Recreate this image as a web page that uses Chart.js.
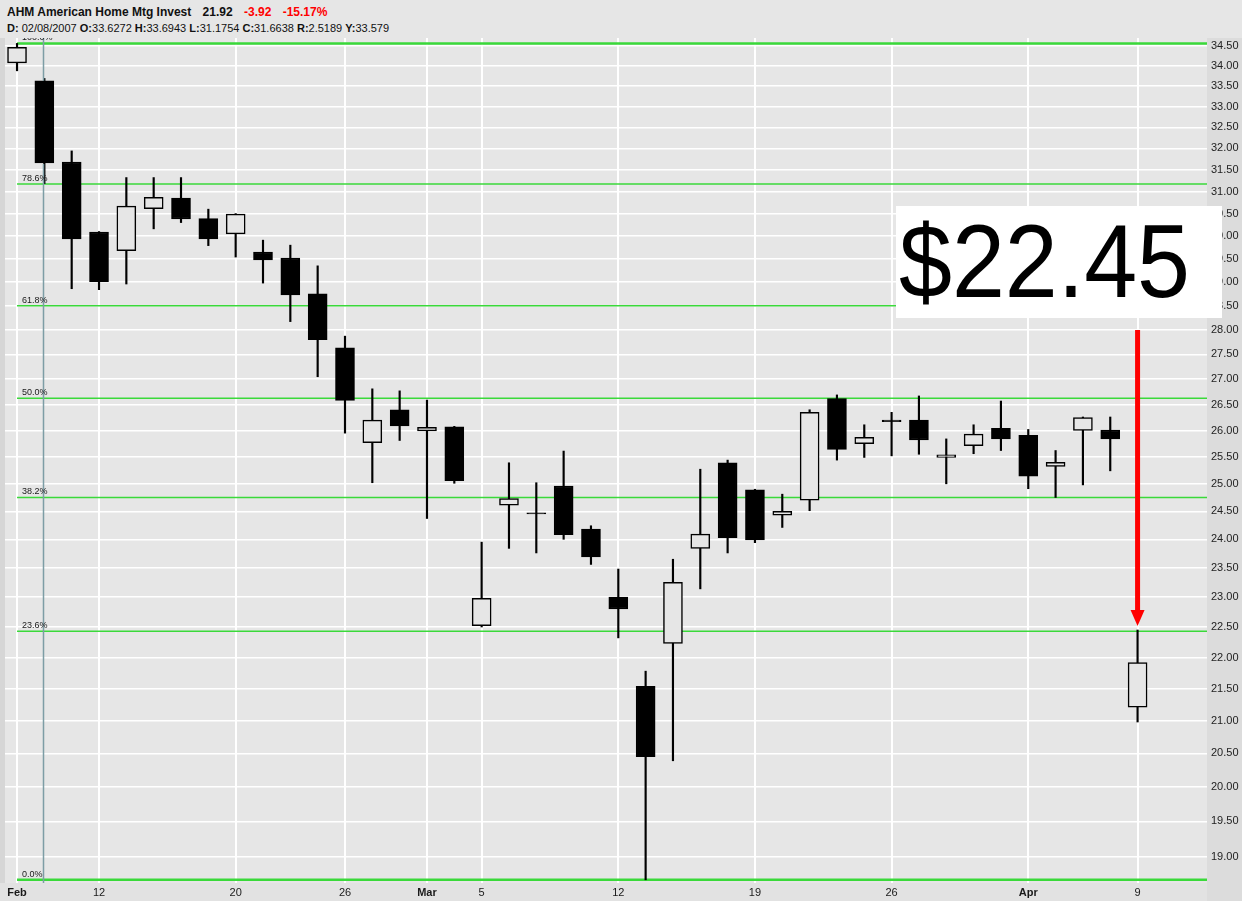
<!DOCTYPE html>
<html>
<head>
<meta charset="utf-8">
<title>AHM American Home Mtg Invest</title>
<script src="https://cdn.jsdelivr.net/npm/chart.js@4.4.0/dist/chart.umd.min.js"></script>
<style>
  html, body { margin: 0; padding: 0; background: #e2e2e2; }
  #wrap { position: relative; width: 1242px; height: 901px; overflow: hidden; }
  #hdr { position: absolute; left: 0; top: 0; width: 1242px; height: 38px; background: #e6e6e6;
         font-family: "Liberation Sans", Arial, sans-serif; color: #111; z-index: 2; }
  #l1 { position: absolute; left: 7px; top: 5px; font-size: 12px; line-height: 14px; font-weight: bold; white-space: pre; }
  #l1 span { margin-left: 8px; }
  #l2 { position: absolute; left: 7px; top: 22px; font-size: 11px; line-height: 13px; white-space: pre; }
  .red { color: #ff0000; }
  canvas { position: absolute; left: 0; top: 0; }
</style>
</head>
<body>
<div id="wrap">
  <div id="hdr">
    <div id="l1">AHM American Home Mtg Invest <span id="last"></span> <span class="red" id="chg"></span> <span class="red" id="pct"></span></div>
    <div id="l2"><b>D:</b> 02/08/2007 <b>O:</b>33.6272 <b>H:</b>33.6943 <b>L:</b>31.1754 <b>C:</b>31.6638 <b>R:</b>2.5189 <b>Y:</b>33.579</div>
  </div>
  <canvas id="c" width="1242" height="901"></canvas>
</div>
<script>
// daily bars
const dates = ['2007-02-07','2007-02-08','2007-02-09','2007-02-12','2007-02-13','2007-02-14','2007-02-15','2007-02-16',
  '2007-02-20','2007-02-21','2007-02-22','2007-02-23','2007-02-26','2007-02-27','2007-02-28','2007-03-01','2007-03-02',
  '2007-03-05','2007-03-06','2007-03-07','2007-03-08','2007-03-09','2007-03-12','2007-03-13','2007-03-14','2007-03-15',
  '2007-03-16','2007-03-19','2007-03-20','2007-03-21','2007-03-22','2007-03-23','2007-03-26','2007-03-27','2007-03-28',
  '2007-03-29','2007-03-30','2007-04-02','2007-04-03','2007-04-04','2007-04-05','2007-04-09'];
const opens  = [34.08,33.63,31.68,30.09,29.68,30.61,30.85,30.39,30.05,29.65,29.52,28.75,27.63,25.77,26.40,25.99,26.07,
  22.52,24.61,24.47,24.96,24.18,23.00,21.54,22.23,23.84,25.39,24.89,24.43,24.70,26.62,25.75,26.20,26.20,25.49,
  25.71,26.04,25.91,25.32,26.00,26.01,21.21];
const highs  = [34.57,33.69,31.94,30.10,31.32,31.32,31.32,30.60,30.50,29.91,29.80,29.35,27.87,26.81,26.77,26.59,26.08,
  23.95,25.39,25.02,25.61,24.24,23.48,21.78,23.65,25.27,25.44,24.90,24.81,26.40,26.69,26.11,26.35,26.67,25.84,
  26.11,26.57,26.02,25.62,26.26,26.26,22.45];
const lows   = [33.88,31.18,28.86,28.84,28.96,30.16,30.30,29.79,29.54,28.98,28.17,27.05,25.95,25.02,25.81,24.37,25.01,
  22.50,23.84,23.76,24.00,23.56,22.32,18.68,20.39,23.14,23.76,23.94,24.21,24.51,25.44,25.49,25.52,25.55,25.00,
  25.56,25.62,24.91,24.75,24.98,25.24,20.98];
const closes = [34.47,31.66,29.94,29.01,30.67,30.87,30.38,29.94,30.49,29.48,28.73,27.80,26.58,26.20,26.09,26.06,25.06,
  22.98,24.73,24.45,24.08,23.69,22.80,20.45,23.25,24.09,24.03,23.99,24.50,26.35,25.64,25.87,26.17,25.82,25.54,
  25.93,25.84,25.14,25.40,26.25,25.84,21.92];

const xTickDates  = ['2007-02-07','2007-02-12','2007-02-20','2007-02-26','2007-03-01','2007-03-05','2007-03-12',
  '2007-03-19','2007-03-26','2007-04-02','2007-04-09'];
const xTickLabels = ['Feb','12','20','26','Mar','5','12','19','26','Apr','9'];
const yTicks = [19.00,19.50,20.00,20.50,21.00,21.50,22.00,22.50,23.00,23.50,24.00,24.50,25.00,25.50,26.00,26.50,
  27.00,27.50,28.00,28.50,29.00,29.50,30.00,30.50,31.00,31.50,32.00,32.50,33.00,33.50,34.00,34.50];
const fibLevels = [1, 0.786, 0.618, 0.5, 0.382, 0.236, 0];
const fibLabels = ['100.0%','78.6%','61.8%','50.0%','38.2%','23.6%','0.0%'];
const cursorDate = '2007-02-08';

const FONT = '"Liberation Sans", Arial, sans-serif';
const PLOT_BG = '#e6e6e6';
const n = dates.length;

// header numbers
const chg = closes[n - 1] - closes[n - 2];
document.getElementById('last').textContent = closes[n - 1].toFixed(2);
document.getElementById('chg').textContent = chg.toFixed(2);
document.getElementById('pct').textContent = (chg / closes[n - 2] * 100).toFixed(2) + '%';

const backdrop = {
  id: 'backdrop',
  beforeDraw(chart) {
    const { ctx, chartArea: a, width, height } = chart;
    ctx.save();
    ctx.fillStyle = '#e2e2e2';
    ctx.fillRect(0, 0, width, height);
    ctx.fillStyle = '#d6d6d6';
    ctx.fillRect(0, a.top, a.left, a.bottom - a.top);
    ctx.fillStyle = '#dcdcdc';
    ctx.fillRect(a.right, a.top, width - a.right, height - a.top);
    ctx.fillStyle = PLOT_BG;
    ctx.fillRect(a.left, a.top, a.right - a.left, a.bottom - a.top);
    ctx.restore();
  }
};

const fibs = {
  id: 'fibs',
  beforeDatasetsDraw(chart) {
    const { ctx, chartArea: a, scales: { x, y } } = chart;
    const hi = Math.max(...highs), lo = Math.min(...lows);
    ctx.save();
    const x0 = x.getPixelForValue(0);
    fibLevels.forEach(f => {
      const py = y.getPixelForValue(lo + f * (hi - lo));
      ctx.strokeStyle = '#3ad93a';
      ctx.lineWidth = (f === 0 || f === 1) ? 2.5 : 1.5;
      ctx.beginPath(); ctx.moveTo(x0, py); ctx.lineTo(a.right, py); ctx.stroke();
    });
    ctx.restore();
  },
  afterDatasetsDraw(chart) {
    const { ctx, chartArea: a, scales: { x, y } } = chart;
    const hi = Math.max(...highs), lo = Math.min(...lows);
    ctx.save();
    // cursor line sits over the wick but not over the body
    const ci = dates.indexOf(cursorDate);
    const cx = Math.round(x.getPixelForValue(ci)) - 0.5;
    const bTop = y.getPixelForValue(Math.max(opens[ci], closes[ci]));
    const bBot = y.getPixelForValue(Math.min(opens[ci], closes[ci]));
    ctx.strokeStyle = '#7d9da5';
    ctx.lineWidth = 1.5;
    ctx.beginPath();
    ctx.moveTo(cx, a.top); ctx.lineTo(cx, bTop);
    ctx.moveTo(cx, bBot + 1); ctx.lineTo(cx, a.bottom);
    ctx.stroke();

    ctx.font = '9px ' + FONT;
    ctx.fillStyle = '#1a1a1a';
    ctx.textBaseline = 'alphabetic';
    fibLevels.forEach((f, k) => {
      const py = y.getPixelForValue(lo + f * (hi - lo));
      ctx.fillText(fibLabels[k], 22, py - 3);
    });
    ctx.restore();
  }
};

const callout = {
  id: 'callout',
  afterDraw(chart) {
    const { ctx, scales: { x, y } } = chart;
    const last = n - 1;
    const ax = x.getPixelForValue(last);
    const tip = y.getPixelForValue(highs[last]) - 4;
    ctx.save();
    ctx.fillStyle = '#ffffff';
    ctx.fillRect(896, 206, 326, 112);
    ctx.fillStyle = '#000000';
    ctx.font = '104px ' + FONT;
    const t = '$' + highs[last].toFixed(2);
    const w = ctx.measureText(t).width;
    ctx.translate(899, 297);
    ctx.scale(291 / w, 1);
    ctx.fillText(t, 0, 0);
    ctx.restore();

    ctx.save();
    ctx.strokeStyle = '#ff0000';
    ctx.fillStyle = '#ff0000';
    ctx.lineWidth = 5;
    ctx.beginPath(); ctx.moveTo(ax, 330); ctx.lineTo(ax, tip - 14); ctx.stroke();
    ctx.beginPath();
    ctx.moveTo(ax - 7, tip - 16); ctx.lineTo(ax + 7, tip - 16); ctx.lineTo(ax, tip);
    ctx.closePath(); ctx.fill();
    ctx.restore();
  }
};

new Chart(document.getElementById('c'), {
  type: 'bar',
  data: {
    datasets: [
      {
        label: 'range',
        data: dates.map((d, i) => ({ x: i, y: [lows[i], highs[i]] })),
        backgroundColor: '#000000',
        barThickness: 1.5,
        grouped: false,
        order: 2
      },
      {
        label: 'body',
        data: dates.map((d, i) => ({ x: i, y: [opens[i], closes[i]] })),
        backgroundColor: dates.map((d, i) => closes[i] < opens[i] ? '#000000' : PLOT_BG),
        borderColor: '#000000',
        borderWidth: 1.5,
        borderSkipped: false,
        barThickness: 19,
        grouped: false,
        order: 1
      }
    ]
  },
  options: {
    responsive: false,
    animation: false,
    devicePixelRatio: 1,
    layout: { padding: { top: 38, left: 5, right: 0, bottom: 0 } },
    plugins: { legend: { display: false }, tooltip: { enabled: false } },
    scales: {
      x: {
        type: 'linear',
        min: -0.44,
        max: 43.54,
        offset: false,
        afterBuildTicks: s => { s.ticks = xTickDates.map(d => ({ value: dates.indexOf(d) })); },
        afterFit: s => { s.height = 18; },
        grid: { color: '#ffffff', lineWidth: 2, drawTicks: false, offset: false },
        border: { display: false },
        ticks: {
          autoSkip: false,
          maxRotation: 0,
          padding: 3,
          color: '#1a1a1a',
          callback: (v, i) => xTickLabels[i],
          font: c => ({ family: FONT, size: 11, weight: /^[A-Z]/.test(xTickLabels[c.index] || '') ? 'bold' : 'normal' })
        }
      },
      y: {
        type: 'logarithmic',
        position: 'right',
        min: 18.636,
        max: 34.708,
        afterBuildTicks: s => { s.ticks = yTicks.map(v => ({ value: v })); },
        afterFit: s => { s.width = 35; },
        grid: { color: '#ffffff', lineWidth: 1.5, drawTicks: false },
        border: { display: false },
        ticks: {
          padding: 4,
          color: '#222222',
          font: { family: FONT, size: 11 },
          callback: v => Number(v).toFixed(2)
        }
      }
    }
  },
  plugins: [backdrop, fibs, callout]
});
</script>
</body>
</html>
